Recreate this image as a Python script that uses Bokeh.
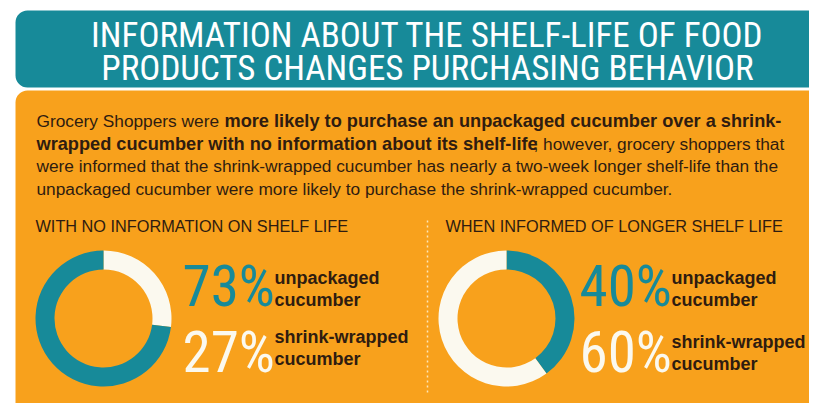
import math
from bokeh.plotting import figure
from bokeh.models import Range1d, ColumnDataSource
from bokeh.core.properties import value
from bokeh.embed import file_html
from bokeh.resources import INLINE

# ---------------- data ----------------
title_lines = ["INFORMATION ABOUT THE SHELF-LIFE OF FOOD",
               "PRODUCTS CHANGES PURCHASING BEHAVIOR"]
categories = ["unpackaged", "shrink-wrapped"]
category_suffix = "cucumber"
panel_titles = ["WITH NO INFORMATION ON SHELF LIFE",
                "WHEN INFORMED OF LONGER SHELF LIFE"]
no_info_pct = [73, 27]      # unpackaged, shrink-wrapped
informed_pct = [40, 60]     # unpackaged, shrink-wrapped
# order in which the ring segments run clockwise from 12 o'clock
no_info_order = [1, 0]
informed_order = [0, 1]

para_lines = [
    [("Grocery Shoppers were", "normal"),
     ("more likely to purchase an unpackaged cucumber over a shrink-", "bold")],
    [("wrapped cucumber with no information about its shelf-life", "bold"),
     ("; however, grocery shoppers that", "normal")],
    [("were informed that the shrink-wrapped cucumber has nearly a two-week longer shelf-life than the", "normal")],
    [("unpackaged cucumber were more likely to purchase the shrink-wrapped cucumber.", "normal")],
]

# ---------------- style ----------------
TEAL = "#178a99"
WHITE = "#fbf9ef"
ORANGE = "#f8a11c"
DARK = "#2f1c10"
NARROW = "Liberation Sans Narrow, Roboto Condensed, DejaVu Sans Condensed, Liberation Sans"
SANS = "Liberation Sans"
cat_colors = [TEAL, WHITE]

W, H = 809, 403


def Y(wy):
    # picture pixel y -> data y
    return H - wy


p = figure(width=W, height=H, x_range=Range1d(0, W), y_range=Range1d(0, H),
           output_backend="svg", toolbar_location=None, min_border=0)
p.axis.visible = False
p.grid.visible = False
p.outline_line_color = None
p.background_fill_color = "white"
p.border_fill_color = "white"

# header band and body panel
p.quad(left=[15], right=[840], top=[Y(10)], bottom=[Y(87)], fill_color=TEAL,
       line_color=None, border_radius=12)
p.quad(left=[15], right=[840], top=[Y(90)], bottom=[Y(418)], fill_color=ORANGE,
       line_color=None, border_radius=12)

# title
p.text(x=[427, 427], y=[Y(35), Y(68)], text=title_lines, text_font=value(NARROW),
       text_font_size="35px", text_color="white", text_align="center",
       text_baseline="alphabetic")

# paragraph
seg_x = [[36, 224], [36, 533], [36], [36]]
seg_size = {"normal": "17.3px", "bold": "18.2px"}
line_base = [120, 143, 165, 188]
for li, segs in enumerate(para_lines):
    for si, (txt, style) in enumerate(segs):
        p.text(x=[seg_x[li][si]], y=[Y(line_base[li])], text=[txt],
               text_font=value(SANS), text_font_size=seg_size[style],
               text_font_style=style, text_color=DARK,
               text_align="left", text_baseline="alphabetic")

# divider
p.line(x=[427, 427], y=[Y(220), Y(393)], line_color="#fde6b8", line_width=1.5,
       line_dash="2 3")

panels = [
    dict(cx=103, title_x=35, num_x=182, lab_x=274, pct=no_info_pct, order=no_info_order,
         lab_base=[(277, 299), (336, 358)]),
    dict(cx=506, title_x=445, num_x=579, lab_x=671, pct=informed_pct, order=informed_order,
         lab_base=[(277, 299), (341, 363)]),
]

for i, pn in enumerate(panels):
    # panel heading
    p.text(x=[pn["title_x"]], y=[Y(225)], text=[panel_titles[i]], text_font=value(SANS),
           text_font_size="16.3px", text_color=DARK, text_align="left",
           text_baseline="alphabetic")
    # ring
    starts, ends, cols = [], [], []
    cum = 0.0
    for k in pn["order"]:
        frac = pn["pct"][k] / sum(pn["pct"])
        starts.append(math.pi / 2 - cum * 2 * math.pi)
        cum += frac
        ends.append(math.pi / 2 - cum * 2 * math.pi)
        cols.append(cat_colors[k])
    src = ColumnDataSource(dict(x=[pn["cx"]] * len(starts), y=[Y(318)] * len(starts),
                                s=starts, e=ends, c=cols))
    p.annular_wedge(x="x", y="y", inner_radius=49, outer_radius=68,
                    inner_radius_units="screen", outer_radius_units="screen",
                    start_angle="s", end_angle="e", direction="clock",
                    fill_color="c", line_color=None, source=src)
    # big numbers and labels
    num_base = [286, 352]
    for k in range(len(categories)):
        p.text(x=[pn["num_x"]], y=[Y(num_base[k])], text=[f"{pn['pct'][k]}%"],
               text_font=value(NARROW), text_font_size="57px", text_color=cat_colors[k],
               text_align="left", text_baseline="alphabetic")
        p.text(x=[pn["lab_x"], pn["lab_x"]],
               y=[Y(pn["lab_base"][k][0]), Y(pn["lab_base"][k][1])],
               text=[categories[k], category_suffix], text_font=value(SANS),
               text_font_size="18px", text_font_style="bold", text_color=DARK,
               text_align="left", text_baseline="alphabetic")

open("out.html", "w").write(file_html(p, INLINE))
